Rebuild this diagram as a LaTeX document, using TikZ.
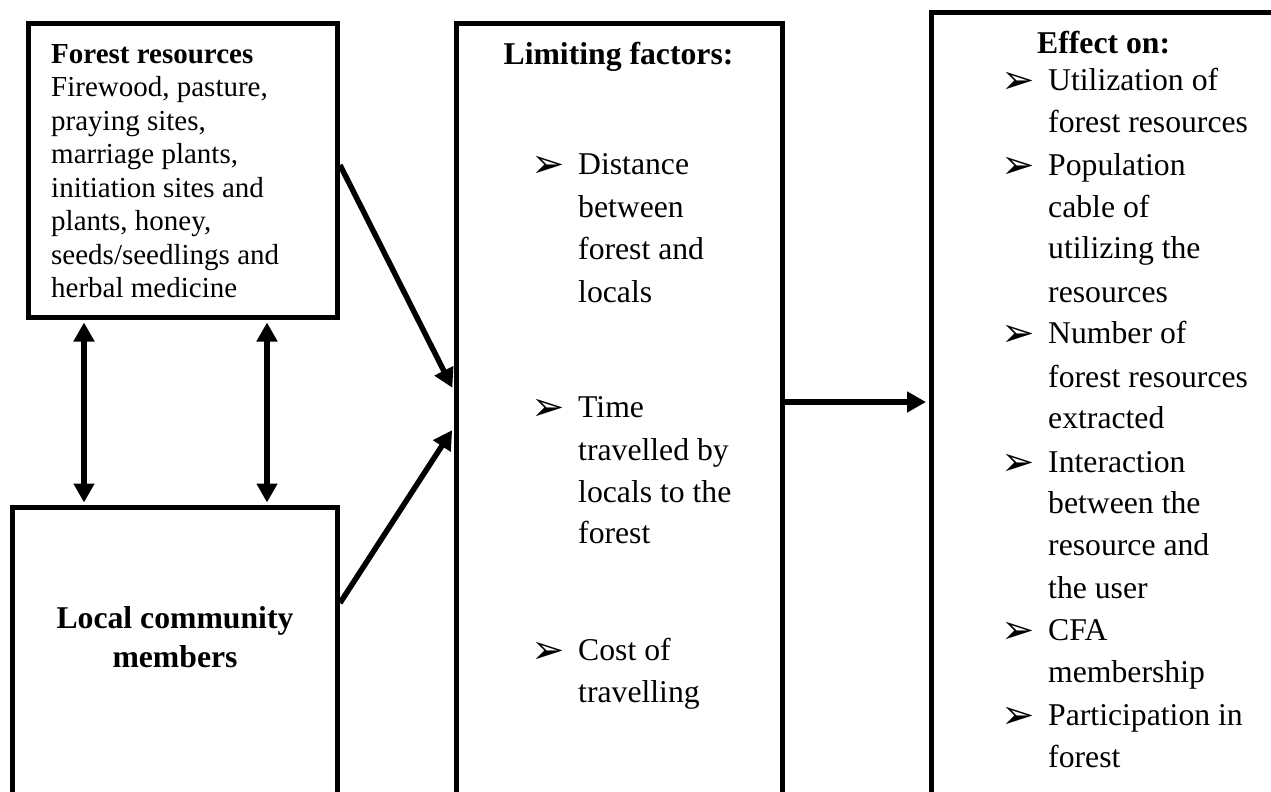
\documentclass[tikz,border=0pt]{standalone}
\usepackage{fontspec}
\setmainfont{Liberation Serif}
\newfontfamily\dejavu{DejaVu Sans}
\usetikzlibrary{arrows.meta,calc}
\begin{document}
\begin{tikzpicture}[x=1pt,y=-1pt,
  box/.style={draw,line width=5pt,inner sep=0pt,rectangle},
  conn/.style={line width=5.5pt,-{Triangle[length=19pt,width=20pt]},shorten >=2.5pt},
  dconn/.style={line width=5.5pt,{Triangle[length=19pt,width=20pt]}-{Triangle[length=19pt,width=20pt]},shorten >=2.5pt,shorten <=2.5pt},
  small/.style={font=\fontsize{29}{33.5}\selectfont,inner sep=0pt,anchor=base west},
  big/.style={font=\fontsize{31.7}{42}\selectfont,inner sep=0pt,anchor=base west},
  bul/.style={font=\dejavu\fontsize{40}{40}\selectfont,inner sep=0pt,anchor=base west,yshift=-3pt}]
\useasboundingbox (0,0) rectangle (1271,792);
\clip (0,0) rectangle (1271,792);
% boxes
\node[box,minimum width=309pt,minimum height=293.5pt] (fr) at (183,170.75) {};
\node[box,minimum width=325pt,minimum height=392.5pt] (lc) at (175,703.75) {};
\node[box,minimum width=326pt,minimum height=876pt] (lf) at (619,462) {};
\node[box,minimum width=469pt,minimum height=887.5pt] (eo) at (1165.5,456.25) {};
% forest resources text
\node[small] (fr0) at (51,63.3) {\bfseries Forest resources};
\node[small] (fr1) at (51,96.8) {Firewood, pasture,};
\node[small] (fr2) at (51,130.3) {praying sites,};
\node[small] (fr3) at (51,163.8) {marriage plants,};
\node[small] (fr4) at (51,197.3) {initiation sites and};
\node[small] (fr5) at (51,230.8) {plants, honey,};
\node[small] (fr6) at (51,264.3) {seeds/seedlings and};
\node[small] (fr7) at (51,297.8) {herbal medicine};
% local community
\node[big,anchor=base] (lc1) at (175,628) {\bfseries Local community};
\node[big,anchor=base] (lc2) at (175,667) {\bfseries members};
% limiting factors
\node[big,anchor=base] (lf0) at (618.5,65) {\bfseries Limiting factors:};
\node[bul] (lb1) at (531,174) {➢};
\node[big] (lf1) at (578,174) {Distance};
\node[big] (lf2) at (578,217) {between};
\node[big] (lf3) at (578,259) {forest and};
\node[big] (lf4) at (578,302) {locals};
\node[bul] (lb2) at (531,417) {➢};
\node[big] (lf5) at (578,417) {Time};
\node[big] (lf6) at (578,460) {travelled by};
\node[big] (lf7) at (578,502) {locals to the};
\node[big] (lf8) at (578,543) {forest};
\node[bul] (lb3) at (531,660) {➢};
\node[big] (lf9) at (578,660) {Cost of};
\node[big] (lf10) at (578,702) {travelling};
% effect on
\node[big] (eo0) at (1037,53) {\bfseries Effect on:};
\node[bul] (eb1) at (1001,90) {➢};
\node[big] (eo1) at (1048,90) {Utilization of};
\node[big] (eo2) at (1048,132) {forest resources};
\node[bul] (eb2) at (1001,175) {➢};
\node[big] (eo3) at (1048,175) {Population};
\node[big] (eo4) at (1048,217) {cable of};
\node[big] (eo5) at (1048,258) {utilizing the};
\node[big] (eo6) at (1048,302) {resources};
\node[bul] (eb3) at (1001,343) {➢};
\node[big] (eo7) at (1048,343) {Number of};
\node[big] (eo8) at (1048,387) {forest resources};
\node[big] (eo9) at (1048,428) {extracted};
\node[bul] (eb4) at (1001,472) {➢};
\node[big] (eo10) at (1048,472) {Interaction};
\node[big] (eo11) at (1048,513) {between the};
\node[big] (eo12) at (1048,555) {resource and};
\node[big] (eo13) at (1048,598) {the user};
\node[bul] (eb5) at (1001,640) {➢};
\node[big] (eo14) at (1048,640) {CFA};
\node[big] (eo15) at (1048,682) {membership};
\node[bul] (eb6) at (1001,725) {➢};
\node[big] (eo16) at (1048,725) {Participation in};
\node[big] (eo17) at (1048,767) {forest};
% connectors
\draw[dconn] (fr.south -| 84,0) -- (lc.north -| 84,0);
\draw[dconn] (fr.south -| 267,0) -- (lc.north -| 267,0);
\draw[conn] (fr.east |- 0,165) -- (lf.west |- 0,390);
\draw[conn] (lc.east |- 0,603) -- (lf.west |- 0,428);
\draw[conn] (lf.east |- 0,402) -- (eo.west |- 0,402);
\end{tikzpicture}
\end{document}
